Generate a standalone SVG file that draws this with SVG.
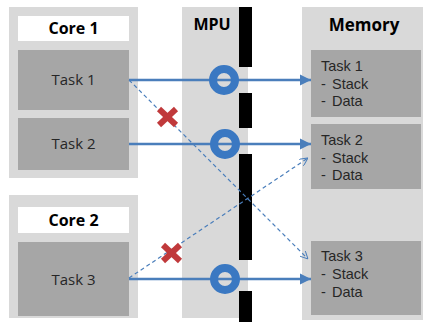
<svg xmlns="http://www.w3.org/2000/svg" width="423" height="322" viewBox="0 0 423 322">
<style>
.panel{fill:#D9D9D9}
.task{fill:#A6A6A6}
.lbl{fill:#FFFFFF}
.bar{fill:#000000}
.t{font-family:"Open Sans","Noto Sans",sans-serif;font-size:15px;fill:#262626}
.m{font-family:"Liberation Sans",Arial,sans-serif;font-size:14.5px;fill:#262626}
.tc{text-anchor:middle}
.h{font-family:"Open Sans","Noto Sans",sans-serif;font-size:16px;font-weight:bold;fill:#000;text-anchor:middle}
.solid{stroke:#4A7EBB;stroke-width:2.5;fill:none}
.dash{stroke:#4A7EBB;stroke-width:1.2;stroke-dasharray:4 3;fill:none}
.ring{stroke:#3A78C2;stroke-width:8;fill:none}
.x{stroke:#C0393B;stroke-width:6;stroke-linecap:butt}
</style>
<defs>
<marker id="ah" viewBox="0 0 10 10" refX="10" refY="5" markerWidth="4.4" markerHeight="5.2" orient="auto" markerUnits="strokeWidth">
<path d="M0,0 L10,5 L0,10 z" fill="#4A7EBB"/>
</marker>
<marker id="oh" viewBox="0 0 10 10" refX="10" refY="5" markerWidth="7" markerHeight="7" orient="auto" markerUnits="strokeWidth">
<path d="M0,0 L10,5 L0,10" fill="none" stroke="#4A7EBB" stroke-width="1.2"/>
</marker>
</defs>

<g id="core1">
<rect class="panel" x="9" y="7" width="129" height="171"/>
<rect class="lbl" x="18" y="16" width="111" height="25"/>
<text class="h" x="73.5" y="34">Core 1</text>
</g>
<g id="task1">
<rect class="task" x="18" y="50" width="111" height="60"/>
<text class="t tc" x="73.5" y="85">Task 1</text>
</g>
<g id="task2">
<rect class="task" x="18" y="118" width="111" height="52"/>
<text class="t tc" x="73.5" y="149">Task 2</text>
</g>
<g id="core2">
<rect class="panel" x="9" y="195" width="129" height="123"/>
<rect class="lbl" x="18" y="207" width="111" height="26"/>
<text class="h" x="73.5" y="226">Core 2</text>
</g>
<g id="task3">
<rect class="task" x="18" y="242" width="111" height="74"/>
<text class="t tc" x="73.5" y="285">Task 3</text>
</g>

<g id="mpu">
<rect class="panel" x="182" y="7" width="66" height="311"/>
<text class="h" x="212" y="30">MPU</text>
<rect class="bar" x="239" y="7" width="13" height="60"/>
<rect class="bar" x="239" y="93" width="13" height="35"/>
<rect class="bar" x="239" y="154" width="13" height="106"/>
<rect class="bar" x="239" y="291" width="13" height="31"/>
</g>

<g id="memory">
<rect class="panel" x="302" y="7" width="121" height="313"/>
<text class="h" x="364" y="31" style="font-size:17px">Memory</text>
</g>
<g id="mem-task1">
<rect class="task" x="311" y="50" width="110" height="67"/>
<text class="m" x="321" y="71">Task 1</text>
<text class="m" x="321" y="88.5">-<tspan x="332">Stack</tspan></text>
<text class="m" x="321" y="106">-<tspan x="332">Data</tspan></text>
</g>
<g id="mem-task2">
<rect class="task" x="311" y="124" width="110" height="65"/>
<text class="m" x="321" y="145">Task 2</text>
<text class="m" x="321" y="162.5">-<tspan x="332">Stack</tspan></text>
<text class="m" x="321" y="180">-<tspan x="332">Data</tspan></text>
</g>
<g id="mem-task3">
<rect class="task" x="311" y="241" width="110" height="74"/>
<text class="m" x="321" y="261">Task 3</text>
<text class="m" x="321" y="279">-<tspan x="332">Stack</tspan></text>
<text class="m" x="321" y="297">-<tspan x="332">Data</tspan></text>
</g>

<g id="connectors">
<line class="dash" x1="129" y1="80" x2="308" y2="259" marker-end="url(#oh)"/>
<line class="dash" x1="129" y1="278" x2="308" y2="158" marker-end="url(#oh)"/>
<line class="solid" x1="129" y1="80" x2="311" y2="80" marker-end="url(#ah)"/>
<line class="solid" x1="129" y1="144" x2="311" y2="144" marker-end="url(#ah)"/>
<line class="solid" x1="129" y1="279" x2="311" y2="279" marker-end="url(#ah)"/>
<circle class="ring" cx="224" cy="80" r="11"/>
<circle class="ring" cx="225" cy="144" r="11"/>
<circle class="ring" cx="225" cy="279" r="11"/>
<g id="x1">
<line class="x" x1="159" y1="109" x2="176" y2="125"/>
<line class="x" x1="176" y1="109" x2="159" y2="125"/>
</g>
<g id="x2">
<line class="x" x1="163" y1="245" x2="180" y2="261"/>
<line class="x" x1="180" y1="245" x2="163" y2="261"/>
</g>
</g>
</svg>
